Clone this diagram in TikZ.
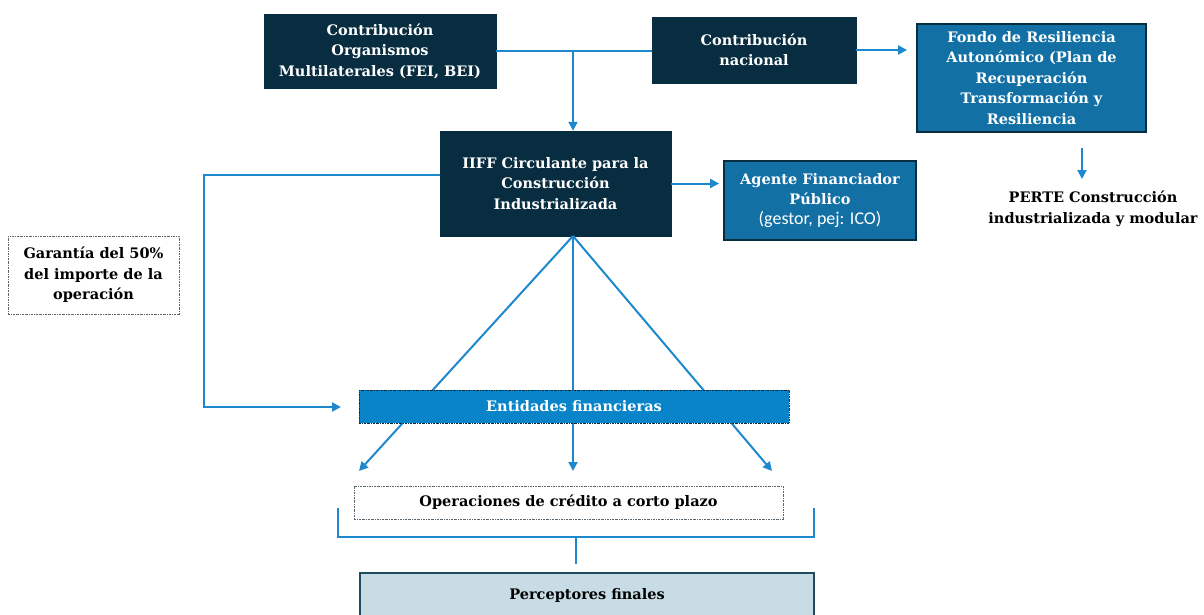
\documentclass[tikz,border=0pt]{standalone}
\usepackage{fontspec}
\setmainfont{DejaVu Serif}
\newfontfamily\calib{Carlito}
\usetikzlibrary{arrows.meta}
\definecolor{navy}{HTML}{082D41}
\definecolor{midblue}{HTML}{1270A4}
\definecolor{entblue}{HTML}{0A84C8}
\definecolor{linec}{HTML}{1E88CF}
\definecolor{percfill}{HTML}{C7DCE4}
\definecolor{percdraw}{HTML}{1F4B5F}
\definecolor{dashg}{HTML}{5A6670}
\tikzset{
  txt/.style={font=\fontsize{14.5}{20.5}\selectfont\bfseries, align=center, inner sep=0pt},
  darkbox/.style={txt, fill=navy, text=white, draw=navy},
  midbox/.style={txt, fill=midblue, text=white, draw=navy, line width=1.8pt},
  dashbox/.style={txt, draw=dashg, line width=0.6pt, dash pattern=on 2pt off 1pt on 0.6pt off 1pt, fill=white},
  conn/.style={draw=linec, line width=2pt},
  arr/.style={conn, -{Triangle[length=9pt,width=9pt]}},
}
\begin{document}
\begin{tikzpicture}[x=1pt,y=-1pt]
\useasboundingbox (0,0) rectangle (1204,615);
% top boxes
\node[darkbox, minimum width=232pt, minimum height=74pt] (b1) at (380,51) {Contribución\\Organismos\\Multilaterales (FEI, BEI)};
\node[darkbox, minimum width=204pt, minimum height=66pt] (b2) at (754,50) {Contribución\\nacional};
\node[midbox, minimum width=229pt, minimum height=108pt] (fondo) at (1031.5,78) {Fondo de Resiliencia\\Autonómico (Plan de\\Recuperación\\Transformación y\\Resiliencia};
\node[txt, text=black] (perte) at (1093,209) {PERTE Construcción\\industrializada y modular};
\node[darkbox, minimum width=231pt, minimum height=105pt] (iiff) at (555.5,183.5) {IIFF Circulante para la\\Construcción\\Industrializada};
\node[midbox, minimum width=192pt, minimum height=79pt] (agente) at (820,200.5) {Agente Financiador\\Público\\[-1pt]{\calib\mdseries\fontsize{18}{20}\selectfont (gestor, pej: ICO)}};
\node[dashbox, text=black, minimum width=171pt, minimum height=78pt] (gar) at (93.5,275) {Garantía del 50\%\\del importe de la\\operación};
% coordinates
\coordinate (j) at (573,51);
\coordinate (pa) at (1082,148);
\coordinate (pb) at (1082,179);
\coordinate (gl0) at (440,175);
\coordinate (gl1) at (204,175);
\coordinate (gl2) at (204,407);
\coordinate (gl3) at (341,407);
\coordinate (is) at (573,236);
\coordinate (tl) at (359,471);
\coordinate (tm) at (573,471);
\coordinate (tr) at (772,471);
\coordinate (k1) at (338,508);
\coordinate (k2) at (338,537);
\coordinate (k3) at (814,537);
\coordinate (k4) at (814,508);
\coordinate (km) at (576,537);
\coordinate (kb) at (576,564);
% connectors
\draw[conn] (b1.east) -- (b1.east -| b2.west);
\draw[arr] (j) -- (j |- iiff.north);
\draw[arr, shorten >=9pt] (b2.east) -- (b2.east -| fondo.west);
\draw[arr] (pa) -- (pb);
\draw[arr, shorten >=4pt] (iiff.east) -- (iiff.east -| agente.west);
\draw[arr] (gl0) -- (gl1) -- (gl2) -- (gl3);
\draw[arr] (is) -- (tl);
\draw[arr] (is) -- (tm);
\draw[arr] (is) -- (tr);
% middle boxes
\node[txt, fill=entblue, text=white, draw=navy, line width=0.6pt, dash pattern=on 2pt off 1pt on 0.6pt off 1pt, minimum width=430pt, minimum height=33pt] (ent) at (574,406.5) {Entidades financieras};
\node[dashbox, text=black, minimum width=429pt, minimum height=33pt] (oper) at (568.5,502.5) {Operaciones de crédito a corto plazo};
\draw[conn] (k1) -- (k2) -- (k3) -- (k4);
\draw[conn] (km) -- (kb);
\node[txt, fill=percfill, draw=percdraw, line width=1.8pt, text=black, minimum width=454pt, minimum height=60pt, text depth=18pt] (perc) at (587,603) {Perceptores finales};
\end{tikzpicture}
\end{document}
